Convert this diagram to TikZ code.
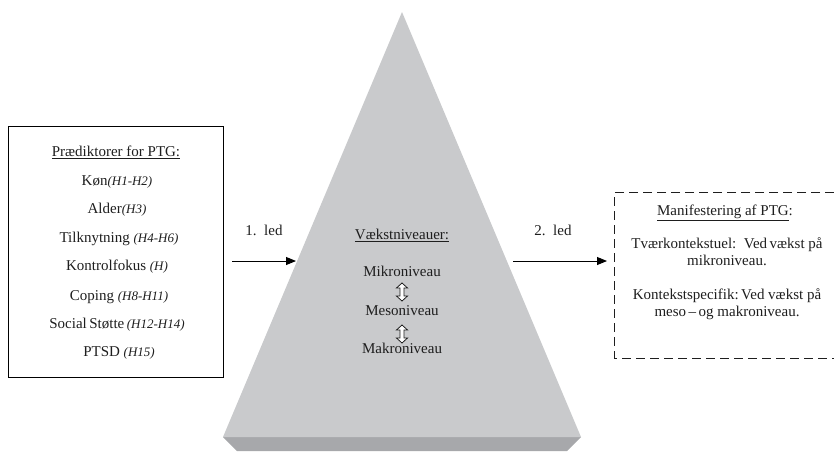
\documentclass[tikz,border=0pt]{standalone}
\usepackage{fontspec}
\setmainfont{Liberation Serif}
\usetikzlibrary{arrows.meta}
\definecolor{pyrface}{HTML}{C9CACC}
\definecolor{pyrbase}{HTML}{A7A8AB}
\definecolor{txt}{HTML}{1E1E1E}
\tikzset{
  lbl/.style={inner sep=0pt, text height=10pt, text depth=3pt, text=txt, font=\fontsize{15}{18}\selectfont},
  arr/.style={line width=0.9pt, -{Triangle[length=10pt,width=8pt]}},
  dashline/.style={draw=txt, line width=0.9pt, dash pattern=on 9pt off 5pt},
  updown/.pic={\draw[fill=white,line width=0.8pt,draw=txt] (0,-9) -- (5.5,-4) -- (2,-4) -- (2,4) -- (5.5,4) -- (0,9) -- (-5.5,4) -- (-2,4) -- (-2,-4) -- (-5.5,-4) -- cycle;}
}
\newcommand{\hy}[1]{{\fontsize{13}{15}\selectfont\itshape #1}}
\begin{document}
\begin{tikzpicture}[x=1pt,y=-1pt]
\useasboundingbox (0,0) rectangle (834,451);
% pyramid
\fill[pyrbase] (223,437) -- (581,437) -- (567,451) -- (237,451) -- cycle;
\fill[pyrface] (402,12) -- (581,437) -- (223,437) -- cycle;
\coordinate (apex) at (402,12);
% left box
\node[draw=black, line width=0.9pt, minimum width=215pt, minimum height=251pt, inner sep=0pt] (pred) at (115.5,251.5) {};
\node[lbl] (p0) at (116,153) {\underline{Prædiktorer for PTG:}};
\node[lbl] (p1) at (117,182) {Køn\hy{(H1-H2)}};
\node[lbl] (p2) at (117,210) {Alder\hy{(H3)}};
\node[lbl] (p3) at (119,239) {Tilknytning \hy{(H4-H6)}};
\node[lbl] (p4) at (117,267) {Kontrolfokus \hy{(H)}};
\node[lbl] (p5) at (119,297) {Coping \hy{(H8-H11)}};
\node[lbl] (p6) at (117,325) {Social\,Støtte\,\hy{(H12-H14)}};
\node[lbl] (p7) at (119,353) {PTSD \hy{(H15)}};
% pyramid text
\node[lbl] (v0) at (402,236) {\underline{Vækstniveauer:}};
\node[lbl] (v1) at (402,273) {Mikroniveau};
\node[lbl] (v2) at (402,312) {Mesoniveau};
\node[lbl] (v3) at (402,350) {Makroniveau};
\pic at (402,292) {updown};
\pic at (402,334) {updown};
% right dashed box (runs past the right edge)
\node[minimum width=219pt, minimum height=165pt, inner sep=0pt] (manif) at (724.5,275.5) {};
\draw[dashline] (manif.north east) -- (manif.north west) -- (manif.south west) -- (manif.south east);
\node[lbl] (m0) at (725,212) {\underline{Manifestering af PTG}:};
\node[lbl] (m1) at (727,245) {Tværkontekstuel:\, Ved\,vækst på};
\node[lbl] (m2) at (727,262) {mikroniveau.};
\node[lbl] (m3) at (727,296) {Kontekstspecifik:\,Ved vækst på};
\node[lbl] (m4) at (727,313) {meso\,–\,og makroniveau.};
% arrows
\node[lbl] (led1) at (264,232) {1.\, led};
\node[lbl] (led2) at (553,232) {2.\, led};
\coordinate (a1s) at (232,261);
\coordinate (a1e) at (296,261);
\coordinate (a2s) at (513,261);
\coordinate (a2e) at (607,261);
\draw[arr] (a1s) -- (a1e);
\draw[arr] (a2s) -- (a2e);
\end{tikzpicture}
\end{document}
